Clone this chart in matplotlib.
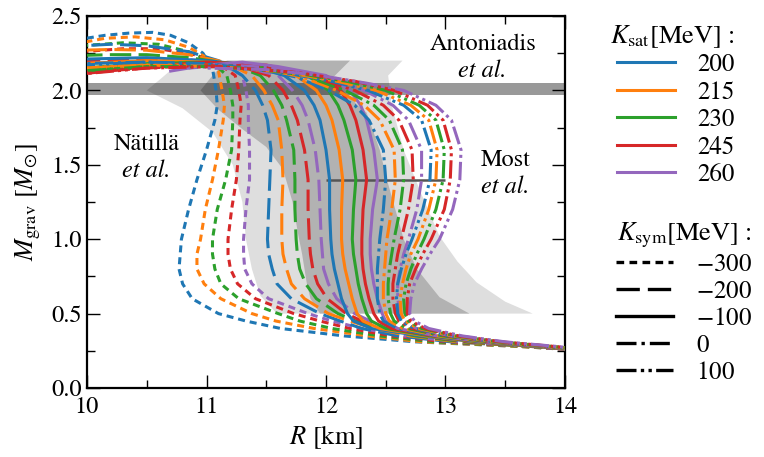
import matplotlib
matplotlib.use("Agg")
import matplotlib.pyplot as plt
from matplotlib.lines import Line2D
from matplotlib.ticker import MultipleLocator

plt.rcParams["font.family"] = "STIXGeneral"
plt.rcParams["mathtext.fontset"] = "stix"

# parameter values of the EOS family
ksat_values = [200, 215, 230, 245, 260]
ksym_values = [-300, -200, -100, 0, 100]
ksat_colors = ["#1f77b4", "#ff7f0e", "#2ca02c", "#d62728", "#9467bd"]

# gravitational mass grid along the stable branch [M_sun]
mass_grid = [0.26, 0.28, 0.31, 0.35, 0.40, 0.45, 0.50, 0.60, 0.70, 0.80,
             0.90, 1.00, 1.20, 1.40, 1.60, 1.80, 1.90, 2.00]

# radius [km] on mass_grid, one row per Ksat (200 ... 260)
radius_m300 = [
    [14.00, 13.60, 12.75, 12.15, 11.62, 11.33, 11.10, 10.88, 10.80, 10.77, 10.78, 10.79, 10.85, 10.92, 11.00, 11.07, 11.09, 11.08],
    [14.00, 13.60, 12.80, 12.35, 11.90, 11.58, 11.38, 11.12, 10.98, 10.92, 10.92, 10.95, 10.99, 11.05, 11.10, 11.14, 11.15, 11.13],
    [14.00, 13.65, 12.90, 12.45, 12.05, 11.78, 11.60, 11.27, 11.12, 11.07, 11.05, 11.05, 11.09, 11.16, 11.21, 11.22, 11.22, 11.20],
    [14.00, 13.70, 13.00, 12.55, 12.20, 11.95, 11.73, 11.41, 11.26, 11.20, 11.18, 11.18, 11.21, 11.25, 11.27, 11.28, 11.29, 11.27],
    [14.00, 13.70, 13.10, 12.65, 12.30, 12.05, 11.85, 11.52, 11.38, 11.32, 11.31, 11.31, 11.33, 11.36, 11.36, 11.35, 11.35, 11.33],
]
radius_m200 = [
    [14.05, 13.70, 13.05, 12.60, 12.30, 12.12, 11.95, 11.71, 11.59, 11.55, 11.52, 11.51, 11.52, 11.53, 11.54, 11.51, 11.47, 11.41],
    [14.05, 13.70, 13.10, 12.70, 12.40, 12.20, 12.02, 11.82, 11.71, 11.67, 11.64, 11.63, 11.63, 11.64, 11.63, 11.60, 11.55, 11.48],
    [14.05, 13.72, 13.15, 12.75, 12.45, 12.25, 12.10, 11.92, 11.83, 11.78, 11.76, 11.75, 11.74, 11.74, 11.73, 11.67, 11.63, 11.56],
    [14.05, 13.75, 13.20, 12.80, 12.50, 12.30, 12.17, 12.01, 11.93, 11.89, 11.87, 11.86, 11.85, 11.85, 11.82, 11.76, 11.71, 11.64],
    [14.05, 13.78, 13.25, 12.85, 12.55, 12.37, 12.24, 12.09, 12.02, 11.98, 11.97, 11.96, 11.95, 11.94, 11.91, 11.85, 11.80, 11.72],
]
radius_m100 = [
    [14.06, 13.75, 13.25, 12.80, 12.38, 12.23, 12.18, 12.13, 12.10, 12.07, 12.05, 12.04, 12.03, 12.03, 12.00, 11.95, 11.90, 11.82],
    [14.07, 13.76, 13.27, 12.84, 12.45, 12.31, 12.26, 12.22, 12.19, 12.16, 12.14, 12.13, 12.13, 12.14, 12.11, 12.05, 12.00, 11.92],
    [14.07, 13.77, 13.29, 12.87, 12.50, 12.38, 12.34, 12.30, 12.27, 12.25, 12.23, 12.22, 12.23, 12.25, 12.22, 12.15, 12.10, 12.02],
    [14.08, 13.78, 13.31, 12.90, 12.55, 12.44, 12.40, 12.36, 12.33, 12.31, 12.30, 12.30, 12.31, 12.34, 12.31, 12.25, 12.20, 12.12],
    [14.09, 13.80, 13.33, 12.93, 12.60, 12.50, 12.47, 12.43, 12.40, 12.38, 12.37, 12.37, 12.39, 12.43, 12.40, 12.34, 12.29, 12.20],
]
radius_p000 = [
    [14.10, 13.80, 13.32, 12.90, 12.60, 12.48, 12.45, 12.43, 12.43, 12.43, 12.44, 12.45, 12.48, 12.50, 12.48, 12.36, 12.24, 12.02],
    [14.10, 13.82, 13.35, 12.94, 12.64, 12.53, 12.50, 12.48, 12.48, 12.49, 12.50, 12.51, 12.55, 12.58, 12.57, 12.45, 12.32, 12.09],
    [14.11, 13.83, 13.37, 12.98, 12.68, 12.57, 12.54, 12.52, 12.52, 12.53, 12.55, 12.57, 12.62, 12.65, 12.64, 12.53, 12.40, 12.16],
    [14.12, 13.85, 13.40, 13.02, 12.72, 12.61, 12.58, 12.56, 12.56, 12.58, 12.60, 12.63, 12.69, 12.73, 12.72, 12.61, 12.48, 12.24],
    [14.13, 13.86, 13.42, 13.05, 12.76, 12.65, 12.62, 12.60, 12.60, 12.62, 12.65, 12.69, 12.76, 12.80, 12.80, 12.69, 12.56, 12.32],
]
radius_p100 = [
    [14.12, 13.85, 13.41, 13.03, 12.74, 12.63, 12.60, 12.59, 12.60, 12.63, 12.67, 12.72, 12.81, 12.87, 12.88, 12.80, 12.65, 12.35],
    [14.13, 13.87, 13.43, 13.06, 12.77, 12.66, 12.63, 12.62, 12.64, 12.67, 12.71, 12.77, 12.86, 12.92, 12.93, 12.86, 12.71, 12.42],
    [14.14, 13.88, 13.45, 13.09, 12.80, 12.69, 12.66, 12.65, 12.67, 12.71, 12.76, 12.82, 12.92, 12.98, 12.99, 12.92, 12.78, 12.50],
    [14.15, 13.90, 13.47, 13.11, 12.83, 12.71, 12.68, 12.68, 12.70, 12.75, 12.81, 12.88, 12.99, 13.04, 13.05, 12.98, 12.85, 12.57],
    [14.17, 13.92, 13.50, 13.14, 12.86, 12.74, 12.70, 12.71, 12.74, 12.80, 12.87, 12.95, 13.06, 13.12, 13.13, 13.05, 12.92, 12.65],
]

# high-mass ends of the curves (radius, mass), continuing past mass_grid
top_r_m300 = [[11.05, 10.97, 10.85, 10.70, 10.55, 10.35, 10.15, 9.95],
              [11.10, 11.00, 10.85, 10.65, 10.40, 10.15, 9.95],
              [11.17, 11.05, 10.85, 10.60, 10.30, 9.95],
              [11.24, 11.10, 10.90, 10.60, 10.30, 9.95],
              [11.30, 11.15, 10.95, 10.80]]
top_m_m300 = [[2.15, 2.25, 2.32, 2.37, 2.39, 2.385, 2.37, 2.345],
              [2.13, 2.22, 2.29, 2.34, 2.36, 2.35, 2.32],
              [2.10, 2.19, 2.26, 2.31, 2.32, 2.30],
              [2.10, 2.18, 2.24, 2.28, 2.28, 2.26],
              [2.10, 2.17, 2.20, 2.21]]
top_r_m200 = [[11.30, 11.10, 10.85, 10.50, 10.20, 9.95],
              [11.38, 11.15, 10.85, 10.50, 10.20, 9.95],
              [11.45, 11.20, 10.85, 10.50, 10.20, 9.95],
              [11.52, 11.25, 10.90, 10.50, 10.20, 9.95],
              [11.60, 11.35, 11.05, 10.80]]
top_m_m200 = [[2.10, 2.20, 2.26, 2.30, 2.31, 2.30],
              [2.10, 2.19, 2.24, 2.27, 2.275, 2.27],
              [2.10, 2.18, 2.22, 2.24, 2.24, 2.235],
              [2.10, 2.17, 2.20, 2.21, 2.205, 2.20],
              [2.10, 2.15, 2.17, 2.17]]
top_r_m100 = [[11.65, 11.35, 11.00, 10.50, 9.95],
              [11.75, 11.40, 11.00, 10.50, 9.95],
              [11.85, 11.45, 11.00, 10.50, 9.95],
              [11.95, 11.50, 11.00, 10.50, 9.95],
              [12.00, 11.60, 11.30, 11.00, 10.70]]
top_m_m100 = [[2.10, 2.17, 2.20, 2.22, 2.21],
              [2.10, 2.17, 2.19, 2.20, 2.18],
              [2.10, 2.17, 2.19, 2.18, 2.15],
              [2.09, 2.17, 2.19, 2.16, 2.11],
              [2.10, 2.16, 2.19, 2.17, 2.13]]
top_r_p000 = [[11.75, 11.40, 11.00, 10.50, 9.95],
              [11.80, 11.45, 11.00, 10.50, 9.95],
              [11.85, 11.50, 11.00, 10.50, 9.95],
              [11.90, 11.50, 11.00, 10.50, 9.95],
              [12.00, 11.60, 11.20, 10.85]]
top_m_p000 = [[2.09, 2.15, 2.18, 2.19, 2.18],
              [2.09, 2.15, 2.17, 2.17, 2.15],
              [2.09, 2.15, 2.17, 2.16, 2.13],
              [2.09, 2.15, 2.17, 2.15, 2.12],
              [2.09, 2.15, 2.17, 2.15]]
top_r_p100 = [[12.05, 11.65, 11.10, 10.50, 9.95],
              [12.10, 11.68, 11.10, 10.50, 9.95],
              [12.18, 11.72, 11.10, 10.50, 9.95],
              [12.25, 11.76, 11.10, 10.50, 9.95],
              [12.33, 11.95, 11.50, 11.00]]
top_m_p100 = [[2.06, 2.12, 2.17, 2.19, 2.17],
              [2.06, 2.12, 2.16, 2.17, 2.15],
              [2.06, 2.12, 2.16, 2.16, 2.13],
              [2.06, 2.12, 2.16, 2.15, 2.11],
              [2.05, 2.10, 2.14, 2.15]]

# observational constraints
antoniadis_mass = [1.97, 2.05]
most_r14 = [12.0, 13.0]
most_mass = 1.4
outer_region_r = [11.59, 11.45, 11.38, 11.33, 11.30, 11.22, 11.05, 10.80, 10.50,
                  10.62, 10.75, 10.85, 12.64, 12.52, 12.55, 12.65, 12.80, 12.95,
                  13.10, 13.26, 13.50, 13.73]
outer_region_m = [0.50, 0.62, 0.80, 1.00, 1.25, 1.50, 1.72, 1.88, 2.00,
                  2.08, 2.17, 2.20, 2.20, 2.10, 1.90, 1.60, 1.30, 1.02,
                  0.85, 0.71, 0.58, 0.50]
inner_region_r = [11.95, 11.87, 11.84, 11.80, 11.77, 11.72, 11.64, 11.50, 11.30,
                  11.10, 10.95, 11.05, 11.17, 12.20, 12.05, 12.20, 12.34, 12.45,
                  12.51, 12.58, 12.65, 12.76, 12.95, 13.20]
inner_region_m = [0.50, 0.60, 0.70, 0.90, 1.02, 1.25, 1.47, 1.62, 1.74,
                  1.87, 2.00, 2.10, 2.20, 2.20, 2.08, 1.95, 1.85, 1.60,
                  1.40, 1.20, 1.00, 0.80, 0.61, 0.50]

radius_groups = [radius_m300, radius_m200, radius_m100, radius_p000, radius_p100]
top_r_groups = [top_r_m300, top_r_m200, top_r_m100, top_r_p000, top_r_p100]
top_m_groups = [top_m_m300, top_m_m200, top_m_m100, top_m_p000, top_m_p100]

ksym_styles = [(0, (2.3, 1.6)),
               (0, (7.0, 2.4)),
               "-",
               (0, (6.0, 1.5, 1.0, 1.5)),
               (0, (6.0, 1.3, 1.0, 1.3, 1.0, 1.3))]

fig = plt.figure(figsize=(7.64, 4.57), dpi=100)
ax = fig.add_axes([0.1139, 0.151, 0.6256, 0.814])

ax.fill(outer_region_r, outer_region_m, color="#dedede", lw=0, zorder=1)
ax.fill(inner_region_r, inner_region_m, color="#b2b2b2", lw=0, zorder=1.1)
ax.axhspan(antoniadis_mass[0], antoniadis_mass[1], color="k", alpha=0.4, lw=0, zorder=1.2)
ax.plot(most_r14, [most_mass, most_mass], color="#555555", lw=1.8, zorder=1.5,
        solid_capstyle="butt")

for style, radii, top_r, top_m in zip(ksym_styles, radius_groups, top_r_groups, top_m_groups):
    for i, color in enumerate(ksat_colors):
        r = radii[i] + top_r[i]
        m = mass_grid + top_m[i]
        ax.plot(r, m, color=color, lw=2.2, linestyle=style, zorder=3)

ax.text(13.31, 2.31, "Antoniadis", ha="center", va="center", fontsize=17.5)
ax.text(13.31, 2.13, "et al.", ha="center", va="center", fontsize=17.5, style="italic")
ax.text(10.5, 1.64, "Nätillä", ha="center", va="center", fontsize=17.5)
ax.text(10.5, 1.46, "et al.", ha="center", va="center", fontsize=17.5, style="italic")
ax.text(13.5, 1.53, "Most", ha="center", va="center", fontsize=17.5)
ax.text(13.5, 1.35, "et al.", ha="center", va="center", fontsize=17.5, style="italic")

ax.set_xlim(10, 14)
ax.set_ylim(0, 2.5)
ax.xaxis.set_major_locator(MultipleLocator(1))
ax.xaxis.set_minor_locator(MultipleLocator(0.5))
ax.yaxis.set_major_locator(MultipleLocator(0.5))
ax.yaxis.set_minor_locator(MultipleLocator(0.25))
ax.tick_params(which="both", direction="in", top=True, right=True, labelsize=17.5)
ax.tick_params(which="major", length=9.5, width=1.0)
ax.tick_params(which="minor", length=5.5, width=1.0)
ax.tick_params(axis="x", pad=6)
for spine in ax.spines.values():
    spine.set_linewidth(1.6)
ax.set_xlabel(r"$R$ [km]", fontsize=19, labelpad=4)
ax.set_ylabel(r"$M_{\rm grav}$ [$M_{\odot}$]", fontsize=19, labelpad=6)

sat_handles = [Line2D([], [], color=c, lw=2.2) for c in ksat_colors]
leg1 = fig.legend(sat_handles, [str(v) for v in ksat_values],
                  title=r"$K_{\rm sat}$[MeV] :", loc="upper left",
                  bbox_to_anchor=(0.785, 0.972), frameon=False, fontsize=18,
                  title_fontsize=19, handlelength=2.3, handletextpad=0.9,
                  labelspacing=0.14, borderaxespad=0)
leg1._legend_box.align = "right"

sym_handles = [Line2D([], [], color="k", lw=2.4, linestyle=s) for s in ksym_styles]
leg2 = fig.legend(sym_handles, [f"${v}$" for v in ksym_values],
                  title=r"$K_{\rm sym}$[MeV] :", loc="upper left",
                  bbox_to_anchor=(0.793, 0.540), frameon=False, fontsize=18,
                  title_fontsize=19, handlelength=2.3, handletextpad=0.9,
                  labelspacing=0.12, borderaxespad=0)
leg2._legend_box.align = "right"

fig.savefig("out.png", dpi=100)
